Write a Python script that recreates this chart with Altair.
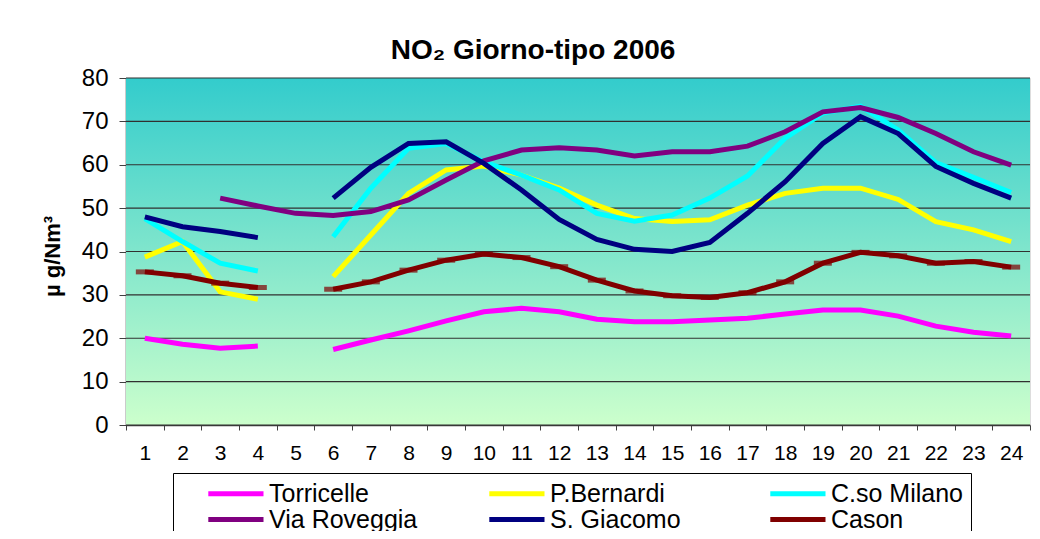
import altair as alt
import pandas as pd

# ---- data ----
hours = list(range(1, 25))
series_names = ["Torricelle", "P.Bernardi", "C.so Milano", "Via Roveggia", "S. Giacomo", "Cason"]
series_colors = ["#FF00FF", "#FFFF00", "#00FFFF", "#800080", "#000080", "#800000"]

torricelle = [20.0, 18.6, 17.7, 18.2, None, 17.4, 19.6, 21.7, 24.0, 26.1, 26.9, 26.1,
              24.4, 23.8, 23.8, 24.2, 24.6, 25.6, 26.5, 26.5, 25.1, 22.8, 21.4, 20.5]
p_bernardi = [38.7, 42.3, 30.7, 29.0, None, 34.2, 43.8, 53.4, 58.8, 59.7, 57.6, 54.6,
              50.7, 47.6, 46.9, 47.3, 50.7, 53.4, 54.6, 54.6, 52.0, 46.9, 45.0, 42.3]
cso_milano = [47.6, 42.3, 37.3, 35.5, None, 43.4, 54.6, 63.8, 64.9, 60.7, 57.6, 54.2,
              48.8, 47.0, 48.4, 52.3, 57.4, 66.1, 71.9, 73.5, 68.0, 60.5, 57.1, 53.6]
via_roveggia = [None, None, 52.3, 50.5, 48.8, 48.3, 49.2, 51.9, 56.5, 60.9, 63.4, 63.9,
                63.4, 62.0, 63.0, 63.0, 64.3, 67.6, 72.2, 73.2, 70.9, 67.2, 63.0, 59.9]
s_giacomo = [48.0, 45.7, 44.6, 43.2, None, 52.3, 59.4, 64.9, 65.3, 60.3, 54.2, 47.4,
             42.8, 40.5, 40.0, 42.1, 48.8, 56.1, 64.9, 71.1, 67.2, 59.6, 55.7, 52.3]
cason = [35.3, 34.4, 32.7, 31.7, None, 31.3, 33.0, 35.7, 38.0, 39.4, 38.6, 36.5,
         33.4, 30.9, 29.8, 29.4, 30.5, 33.0, 37.3, 39.8, 39.0, 37.3, 37.7, 36.4]

y_ticks = [0, 10, 20, 30, 40, 50, 60, 70, 80]

all_series = [torricelle, p_bernardi, cso_milano, via_roveggia, s_giacomo, cason]

rows = []
for name, vals in zip(series_names, all_series):
    seg = 0
    gap = True
    for h, v in zip(hours, vals):
        if v is None:
            gap = True
            continue
        if gap:
            seg += 1
            gap = False
        rows.append({"ora": h, "valore": v, "stazione": name, "tratto": f"{name}_{seg}"})
df = pd.DataFrame(rows)
grid_df = pd.DataFrame({"valore": y_ticks})

x_scale = alt.Scale(domain=hours, paddingInner=0, paddingOuter=0)
y_scale = alt.Scale(domain=[0, 80], nice=False)

x_axis = alt.Axis(labelAngle=0, labelFontSize=21, labelFont="Liberation Sans",
                  labelColor="black", tickBand="extent", tickSize=5,
                  tickColor="#404040", domainColor="#404040", domainWidth=1.5,
                  labelPadding=12, grid=False)
y_axis = alt.Axis(values=y_ticks, labelFontSize=24, labelFont="Liberation Sans",
                  labelColor="black", tickSize=7, tickColor="#404040",
                  domainColor="#303030", domainWidth=1.5, labelPadding=11,
                  grid=False, titleFontSize=22, titleFont="Liberation Sans",
                  titleFontWeight="bold", titleColor="black",
                  titleX=-62, titleY=178)
y_title = "µ g/Nm³"

gradient = alt.LinearGradient(
    gradient="linear",
    stops=[alt.GradientStop(color="#33CCCC", offset=0),
           alt.GradientStop(color="#CCFFCC", offset=1)],
    x1=0, x2=0, y1=0, y2=1)

background = alt.Chart(alt.Data(values=[{}])).mark_rect(fill=gradient).encode(
    x=alt.value(0), x2=alt.value("width"), y=alt.value(0), y2=alt.value("height"))

gridlines = alt.Chart(grid_df).mark_rule(color="#303030", strokeWidth=1.2).encode(
    y=alt.Y("valore:Q", scale=y_scale, axis=y_axis, title=y_title))

lines = alt.Chart(df).mark_line(strokeWidth=5).encode(
    x=alt.X("ora:O", scale=x_scale, axis=x_axis, title=None),
    y=alt.Y("valore:Q", scale=y_scale, axis=y_axis, title=y_title),
    color=alt.Color("stazione:N",
                    scale=alt.Scale(domain=series_names, range=series_colors),
                    legend=alt.Legend(orient="none", legendX=47, legendY=395, columns=3,
                                      direction="horizontal", title=None,
                                      symbolType="M1.85,0H8.75", symbolSize=256,
                                      symbolStrokeWidth=5, labelFontSize=25,
                                      labelFont="Liberation Sans", labelColor="black",
                                      labelOffset=63, labelLimit=400, gridAlign="all",
                                      columnPadding=44, rowPadding=0, padding=8,
                                      strokeColor="black", fillColor="white")),
    detail="tratto:N",
)

markers = alt.Chart(df).transform_filter(alt.datum.stazione == "Cason").mark_tick(
    color="#800000", thickness=5, size=18, orient="horizontal").encode(
    x=alt.X("ora:O", scale=x_scale, axis=x_axis, title=None),
    y=alt.Y("valore:Q", scale=y_scale, axis=y_axis, title=y_title))

chart = alt.layer(background, gridlines, lines, markers).properties(
    width=904, height=347,
    title=alt.TitleParams(text="NO₂ Giorno-tipo 2006", fontSize=28, font="Liberation Sans",
                          fontWeight="bold", color="black", anchor="middle", dx=-45,
                          offset=1),
    autosize=alt.AutoSizeParams(type="none"),
    padding={"left": 118, "top": 70, "right": 2, "bottom": 106},
).configure_view(stroke="#808080", strokeWidth=2).configure(background="white")

chart.save("out.html", embed_options={"renderer": "svg", "actions": False})
